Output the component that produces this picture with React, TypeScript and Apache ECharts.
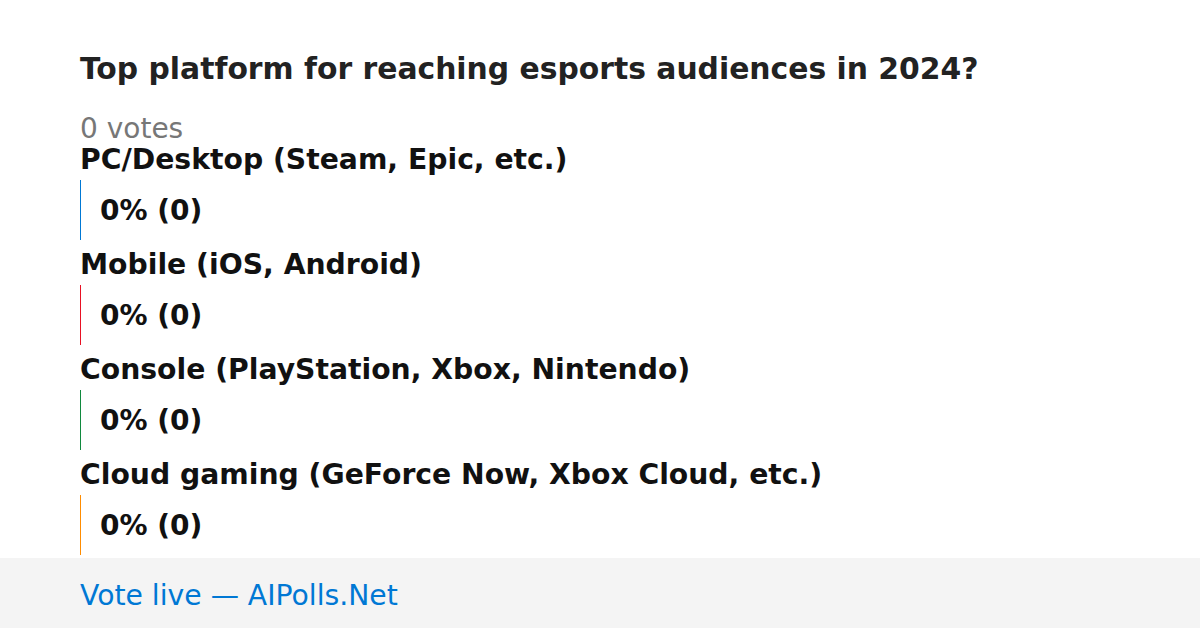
import React, { useEffect, useRef } from "react";
import * as echarts from "echarts";

const title = "Top platform for reaching esports audiences in 2024?";
const totalVotesLabel = "0 votes";
const categories = [
  "PC/Desktop (Steam, Epic, etc.)",
  "Mobile (iOS, Android)",
  "Console (PlayStation, Xbox, Nintendo)",
  "Cloud gaming (GeForce Now, Xbox Cloud, etc.)",
];
const votes = [0, 0, 0, 0];
const percents = [0, 0, 0, 0];
const barColors = ["#0078d4", "#e81123", "#10893e", "#ff8c00"];
const footerText = "Vote live — AIPolls.Net";

const FONT = "DejaVu Sans";

export default function App() {
  const ref = useRef<HTMLDivElement>(null);
  useEffect(() => {
    if (!ref.current) return;
    const chart = echarts.init(ref.current, undefined, { renderer: "svg" });
    const option: any = {
      animation: false,
      backgroundColor: "#ffffff",
      title: [
        {
          text: title,
          left: 80,
          top: 51,
          padding: 0,
          textStyle: { fontFamily: FONT, fontSize: 29.8, fontWeight: "bold", color: "#222222", lineHeight: 34 },
        },
        {
          text: totalVotesLabel,
          left: 80,
          top: 111,
          padding: 0,
          textStyle: { fontFamily: FONT, fontSize: 28, fontWeight: "normal", color: "#777777", lineHeight: 34 },
        },
      ],
      grid: { left: 80, right: 80, top: 157.5, height: 420, containLabel: false },
      xAxis: { type: "value", min: 0, max: 100, show: false },
      yAxis: { type: "category", data: categories, inverse: true, show: false },
      series: [
        {
          type: "bar",
          barWidth: 60,
          barMinHeight: 1,
          barGap: "-100%",
          data: percents.map((p, i) => ({ value: p, itemStyle: { color: barColors[i] } })),
          label: {
            show: true,
            position: [20, "50%"],
            align: "left",
            verticalAlign: "middle",
            fontFamily: FONT,
            fontSize: 28,
            fontWeight: "bold",
            color: "#111111",
            formatter: (p: any) => `${percents[p.dataIndex]}% (${votes[p.dataIndex]})`,
          },
        },
        {
          type: "bar",
          barWidth: 60,
          barMinHeight: 1,
          barGap: "-100%",
          data: percents.map((p, i) => ({ value: p, itemStyle: { color: barColors[i] } })),
          label: {
            show: true,
            position: [0, -21],
            align: "left",
            verticalAlign: "middle",
            fontFamily: FONT,
            fontSize: 28.25,
            fontWeight: "bold",
            color: "#111111",
            formatter: (p: any) => categories[p.dataIndex],
          },
        },
      ],
      graphic: [
        {
          type: "rect",
          left: 0,
          top: 558,
          shape: { x: 0, y: 0, width: 1200, height: 70 },
          style: { fill: "#f4f4f4" },
        },
        {
          type: "text",
          x: 80,
          y: 595,
          style: {
            text: footerText,
            fontFamily: FONT,
            fontSize: 28.25,
            fill: "#0078d4",
            textAlign: "left",
            textVerticalAlign: "middle",
          },
        },
      ],
    };
    chart.setOption(option);
    return () => chart.dispose();
  }, []);
  return (
    <div
      ref={ref}
      style={{ position: "absolute", left: 0, top: 0, width: 1200, height: 628 }}
    />
  );
}
